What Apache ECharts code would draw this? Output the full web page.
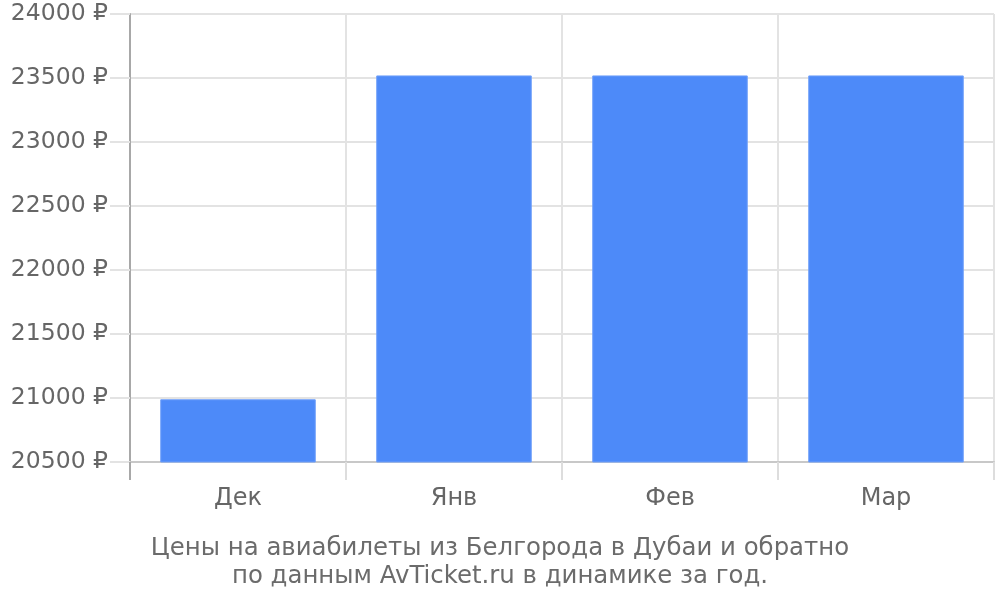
<!DOCTYPE html>
<html><head><meta charset="utf-8">
<script src="https://cdn.jsdelivr.net/npm/echarts@6/dist/echarts.min.js"></script>
<style>html,body{margin:0;padding:0;background:#fff}#c{width:1000px;height:600px}</style>
</head><body><div id="c"></div>
<script>
const categories = ['Дек', 'Янв', 'Фев', 'Мар'];
const prices = [20990, 23520, 23520, 23520];
const captionLines = ['Цены на авиабилеты из Белгорода в Дубаи и обратно', 'по данным AvTicket.ru в динамике за год.'];

const chart = echarts.init(document.getElementById('c'), null, {renderer: 'canvas'});
const font = 'DejaVu Sans';
chart.setOption({
  animation: false,
  backgroundColor: '#fff',
  title: {
    text: captionLines.join('\n'),
    left: 'center', top: 530,
    textStyle: {fontFamily: font, fontSize: 24.4, fontWeight: 'normal', color: '#6b6b6b', lineHeight: 28, align: 'center'}
  },
  grid: {left: 130, right: 6, top: 14, bottom: 138, containLabel: false},
  xAxis: {
    type: 'category', data: categories,
    axisLine: {show: true, lineStyle: {color: '#c8c8c8', width: 2}},
    axisTick: {show: true, length: 18, lineStyle: {color: '#dddddd', width: 2}},
    splitLine: {show: true, lineStyle: {color: '#e3e3e3', width: 2}},
    axisLabel: {fontFamily: font, fontSize: 24, color: '#666', margin: 25}
  },
  yAxis: {
    type: 'value', min: 20500, max: 24000, interval: 500,
    axisLine: {show: true, lineStyle: {color: '#a8a8a8', width: 2}},
    axisTick: {show: true, length: 20, lineStyle: {color: '#e3e3e3', width: 2}},
    splitLine: {show: true, lineStyle: {color: '#e3e3e3', width: 2}},
    axisLabel: {fontFamily: font, fontSize: 23.5, color: '#666', margin: 22, formatter: v => v + ' ₽'}
  },
  series: [{
    type: 'bar', data: prices, barCategoryGap: '28%',
    itemStyle: {color: '#4d8af9', borderColor: '#6f9ff9', borderWidth: 1}
  }]
});
const p0 = chart.convertToPixel({xAxisIndex: 0, yAxisIndex: 0}, [0, 20500]);
chart.setOption({graphic: [{type: 'line', shape: {x1: 130, y1: p0[1], x2: 130, y2: p0[1] + 18}, style: {stroke: '#a8a8a8', lineWidth: 2}, z: 10}]});
</script></body></html>
